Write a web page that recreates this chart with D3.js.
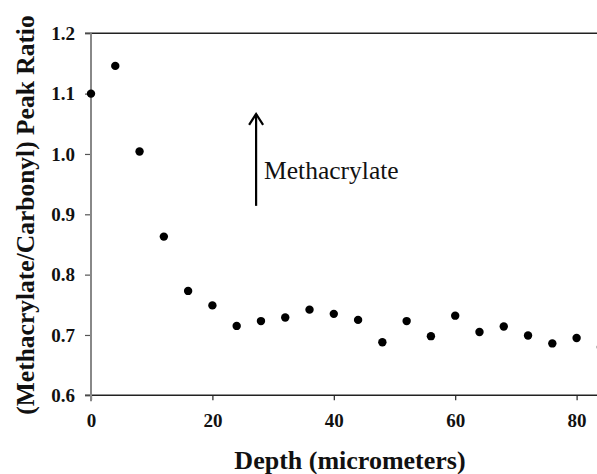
<!DOCTYPE html>
<html>
<head>
<meta charset="utf-8">
<script src="https://cdn.jsdelivr.net/npm/d3@7"></script>
<style>
  body { margin: 0; background: #fff; }
  svg { display: block; }
</style>
</head>
<body>
<div id="chart"></div>
<script>
const w = 597;
const h = 474;
const margin = { top: 33.3, right: 0, bottom: 78.7, left: 91 };
const serif = '"Liberation Serif"';

// depth in micrometers
const depths = [0, 4, 8, 12, 16, 20, 24, 28, 32, 36, 40, 44, 48, 52, 56, 60, 64, 68, 72, 76, 80, 84];
// (methacrylate/carbonyl) peak ratio
const ratios = [1.100, 1.146, 1.004, 0.863, 0.773, 0.749, 0.715, 0.723, 0.729, 0.742, 0.735, 0.725,
                0.688, 0.723, 0.698, 0.732, 0.705, 0.714, 0.699, 0.686, 0.695, 0.680];
const xTicks = [0, 20, 40, 60, 80];
const yTicks = [0.6, 0.7, 0.8, 0.9, 1.0, 1.1, 1.2];
const arrowX = 27.2;
const arrowY = [0.914, 1.068];
const annotation = "Methacrylate";

const xScale = d3.scaleLinear()
  .domain([0, 83.36])
  .range([margin.left, w - margin.right]);

const yScale = d3.scaleLinear()
  .domain([0.6, 1.2])
  .range([h - margin.bottom, margin.top]);

const svg = d3.select("#chart")
  .append("svg")
  .attr("width", w)
  .attr("height", h)
  .attr("font-family", serif);

svg.append("defs").append("clipPath")
  .attr("id", "plot-clip")
  .append("rect")
  .attr("x", margin.left - 6)
  .attr("y", 0)
  .attr("width", w)
  .attr("height", h);

// top frame line (extends left like a tick)
svg.append("line")
  .attr("x1", margin.left - 6).attr("x2", w)
  .attr("y1", yScale(1.2)).attr("y2", yScale(1.2))
  .attr("stroke", "#222").attr("stroke-width", 1.5);

// x axis
const xAxis = d3.axisBottom(xScale)
  .tickValues(xTicks)
  .tickSize(5)
  .tickSizeOuter(0)
  .tickPadding(13)
  .tickFormat(d3.format("d"));

const gx = svg.append("g")
  .attr("transform", `translate(0, ${yScale(0.6)})`)
  .call(xAxis)
  .attr("font-family", serif);
gx.select(".domain").remove();
gx.append("line")
  .attr("x1", margin.left - 6).attr("x2", w)
  .attr("y1", 0).attr("y2", 0)
  .attr("stroke", "#222").attr("stroke-width", 1.5);
gx.selectAll(".tick line").attr("stroke", "#222").attr("stroke-width", 1.2);
gx.selectAll(".tick text")
  .attr("font-family", serif)
  .attr("font-weight", "bold")
  .attr("font-size", 19)
  .attr("fill", "#111");

// y axis
const yAxis = d3.axisLeft(yScale)
  .tickValues(yTicks)
  .tickSize(6)
  .tickSizeOuter(0)
  .tickPadding(10)
  .tickFormat(d3.format(".1f"));

const gy = svg.append("g")
  .attr("transform", `translate(${margin.left}, 0)`)
  .call(yAxis)
  .attr("font-family", serif);
gy.select(".domain").remove();
gy.append("line")
  .attr("x1", 0).attr("x2", 0)
  .attr("y1", yScale(1.2)).attr("y2", yScale(0.6) + 6)
  .attr("stroke", "#888").attr("stroke-width", 2);
gy.selectAll(".tick line").attr("stroke", "#555").attr("stroke-width", 1.2);
gy.selectAll(".tick text")
  .attr("font-family", serif)
  .attr("font-weight", "bold")
  .attr("font-size", 19)
  .attr("fill", "#111");

// points
svg.append("g")
  .attr("clip-path", "url(#plot-clip)")
  .selectAll("circle")
  .data(depths)
  .enter()
  .append("circle")
  .attr("cx", d => xScale(d))
  .attr("cy", (d, i) => yScale(ratios[i]))
  .attr("r", 4.2)
  .attr("fill", "#000");

// arrow annotation
const ax = xScale(arrowX);
const ayTop = yScale(arrowY[1]);
svg.append("line")
  .attr("x1", ax).attr("x2", ax)
  .attr("y1", yScale(arrowY[0])).attr("y2", ayTop + 1)
  .attr("stroke", "#000")
  .attr("stroke-width", 2.2);

svg.append("path")
  .attr("d", `M${ax - 7},${ayTop + 12} L${ax},${ayTop + 1} L${ax + 7},${ayTop + 12}`)
  .attr("fill", "none")
  .attr("stroke", "#000")
  .attr("stroke-width", 2.2);

svg.append("text")
  .attr("x", ax + 8)
  .attr("y", 179)
  .attr("font-family", serif)
  .attr("font-size", 25.5)
  .attr("fill", "#111")
  .text(annotation);

// axis titles
svg.append("text")
  .attr("x", 350)
  .attr("y", 469)
  .attr("text-anchor", "middle")
  .attr("font-family", serif)
  .attr("font-weight", "bold")
  .attr("font-size", 26)
  .attr("fill", "#111")
  .text("Depth (micrometers)");

svg.append("text")
  .attr("transform", `translate(34, 215) rotate(-90)`)
  .attr("text-anchor", "middle")
  .attr("font-family", serif)
  .attr("font-weight", "bold")
  .attr("font-size", 25.5)
  .attr("fill", "#111")
  .text("(Methacrylate/Carbonyl) Peak Ratio");
</script>
</body>
</html>
